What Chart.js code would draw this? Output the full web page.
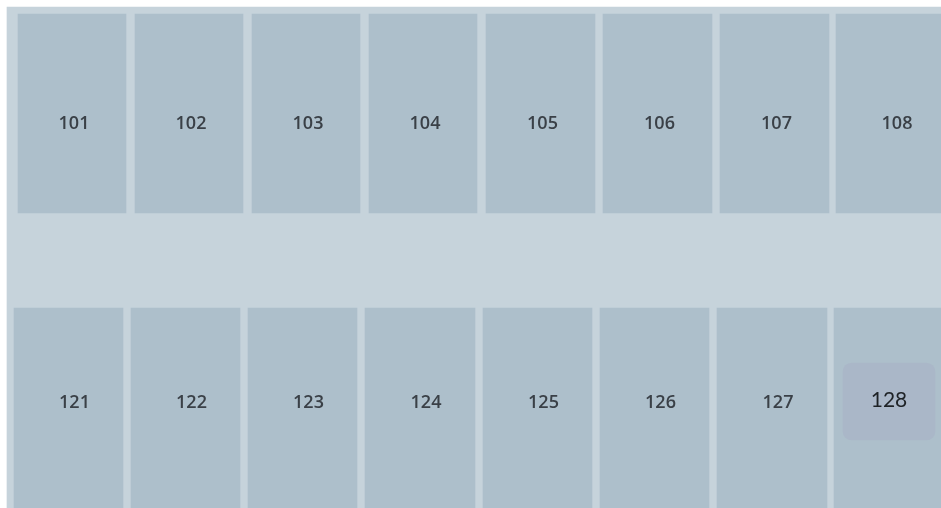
<!DOCTYPE html>
<html>
<head>
<meta charset="utf-8">
<script src="https://cdn.jsdelivr.net/npm/chart.js@4"></script>
<style>
  html, body { margin: 0; padding: 0; background: #ffffff; }
  #wrap { width: 941px; height: 508px; }
</style>
</head>
<body>
<div id="wrap"><canvas id="c" width="941" height="508"></canvas></div>
<script>
// ---- Floor plan data (plan units along the corridor / depth) ----
const topRooms    = ['101', '102', '103', '104', '105', '106', '107', '108'];
const topStart    = [18, 135, 252, 369, 486, 603, 720, 836];
const topEnd      = [126, 243, 360, 477, 595, 712, 829, 954];

const bottomRooms = ['121', '122', '123', '124', '125', '126', '127', '128'];
const bottomStart = [14, 131, 248, 365, 483, 600, 717, 834];
const bottomEnd   = [123, 240, 357, 475, 592, 709, 827, 943];

const rowCentre   = [113.5, 408];          // centre line of the top / bottom row
const floorExtent = [7, 960];              // outer floor outline along the corridor
const floorCentre = [260];

const highlightRoom   = ['128'];
const highlightExtent = [843, 935];
const highlightCentre = [401.5];

const planWidth  = [0, 941];
const planHeight = [0, 508];

// ---- build datasets from the arrays ----
const rowData = (starts, ends, y) => starts.map((s, i) => ({ x: [s, ends[i]], y: y }));

const labelPlugin = {
  id: 'roomLabels',
  afterDatasetsDraw(chart) {
    const ctx = chart.ctx;
    chart.data.datasets.forEach((ds, di) => {
      if (!ds.roomLabels) return;
      const meta = chart.getDatasetMeta(di);
      meta.data.forEach((el, i) => {
        const txt = ds.roomLabels[i];
        if (ds.skipLabels && ds.skipLabels.includes(txt)) return;
        const cx = (el.x + el.base) / 2 + (ds.labelDx || 0);
        const cy = el.y + (ds.labelDy || 0);
        ctx.save();
        ctx.font = ds.labelFont;
        ctx.fillStyle = ds.labelColor;
        ctx.textAlign = 'center';
        ctx.textBaseline = 'middle';
        ctx.fillText(txt, cx, cy);
        ctx.restore();
      });
    });
  }
};

new Chart(document.getElementById('c'), {
  type: 'bar',
  data: {
    datasets: [
      {
        label: 'Floor',
        data: [{ x: floorExtent, y: floorCentre[0] }],
        backgroundColor: '#c6d3db',
        barThickness: 506,
        grouped: false,
        order: 3
      },
      {
        label: 'Rooms 101–108',
        data: rowData(topStart, topEnd, rowCentre[0]),
        backgroundColor: '#adbfcb',
        barThickness: 199,
        grouped: false,
        order: 2,
        roomLabels: topRooms,
        labelDx: 2,
        labelDy: 10.5,
        labelFont: '600 18px "Open Sans", sans-serif',
        labelColor: '#3a4047'
      },
      {
        label: 'Rooms 121–128',
        data: rowData(bottomStart, bottomEnd, rowCentre[1]),
        backgroundColor: '#adbfcb',
        barThickness: 200,
        grouped: false,
        order: 2,
        roomLabels: bottomRooms,
        skipLabels: highlightRoom,
        labelDx: 6,
        labelDy: -5,
        labelFont: '600 18px "Open Sans", sans-serif',
        labelColor: '#3a4047'
      },
      {
        label: 'Selected',
        data: [{ x: highlightExtent, y: highlightCentre[0] }],
        backgroundColor: '#aab7c8',
        barThickness: 77,
        borderRadius: 9,
        borderSkipped: false,
        grouped: false,
        order: 1,
        roomLabels: highlightRoom,
        labelDx: 0,
        labelDy: -1,
        labelFont: '21px Lato, "Open Sans", sans-serif',
        labelColor: '#1e2226'
      }
    ]
  },
  options: {
    indexAxis: 'y',
    responsive: false,
    maintainAspectRatio: false,
    animation: false,
    layout: { padding: 0 },
    plugins: { legend: { display: false }, tooltip: { enabled: false } },
    events: [],
    scales: {
      x: { type: 'linear', min: planWidth[0], max: planWidth[1], offset: false, display: false },
      y: { type: 'linear', min: planHeight[0], max: planHeight[1], reverse: true, offset: false, display: false }
    }
  },
  plugins: [labelPlugin]
});
</script>
</body>
</html>
